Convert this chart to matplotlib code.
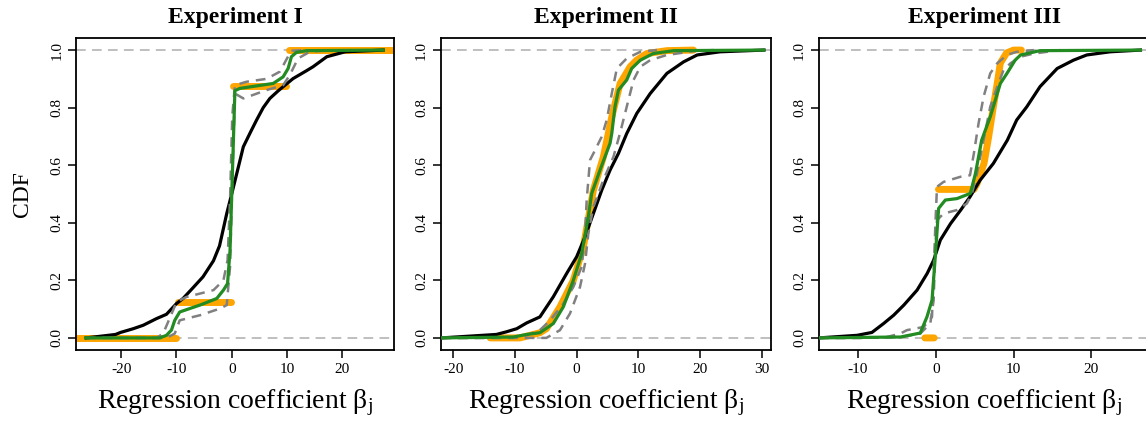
import numpy as np
import matplotlib
matplotlib.use("Agg")
import matplotlib.pyplot as plt

plt.rcParams['font.family'] = ['Liberation Serif', 'DejaVu Serif']
plt.rcParams['mathtext.fontset'] = 'custom'
plt.rcParams['mathtext.rm'] = 'Liberation Serif'
plt.rcParams['mathtext.it'] = 'Liberation Serif'
plt.rcParams['lines.scale_dashes'] = False

nan = np.nan

# ---- Experiment I ----
exp1_black_x = [-26.3, -21.0, -20.1, -17.8, -16.0, -13.6, -11.8, -10.0, -8.8, -7.2, -5.2, -3.3, -2.2,
                -0.9, 0.0, 0.9, 2.1, 3.4, 4.5, 5.7, 6.9, 8.5, 11.1, 13.5, 14.7, 17.2, 20.5, 27.4]
exp1_black_y = [0.0, 0.012, 0.019, 0.032, 0.044, 0.067, 0.082, 0.119, 0.137, 0.17, 0.212, 0.268, 0.32,
                0.432, 0.50, 0.57, 0.664, 0.715, 0.757, 0.80, 0.832, 0.86, 0.901, 0.928, 0.942, 0.977, 0.994, 1.0]

exp1_green_x = [-26.4, -13.0, -11.8, -10.9, -10.3, -9.4, -8.2, -5.75, -2.7, -1.5, -0.75, -0.3, 0.16,
                0.58, 1.5, 7.5, 9.3, 10.2, 10.8, 11.7, 13.5, 27.4]
exp1_green_y = [0.0, 0.0, 0.009, 0.027, 0.061, 0.09, 0.098, 0.114, 0.137, 0.166, 0.189, 0.305, 0.594,
                0.859, 0.867, 0.884, 0.907, 0.936, 0.977, 0.992, 0.998, 1.0]

exp1_hi_x = [-26.4, -13.6, -12.4, -10.6, -10.0, -8.2, -3.3, -1.5, -0.75, -0.3, 0.1, 0.58, 2.7, 6.3,
             8.7, 10.0, 10.8, 13.5]
exp1_hi_y = [0.0, 0.0, 0.015, 0.096, 0.125, 0.142, 0.166, 0.2, 0.27, 0.48, 0.77, 0.878, 0.89, 0.90,
             0.925, 0.971, 0.998, 1.0]

exp1_lo_x = [-26.4, -11.8, -10.3, -9.4, -8.2, -5.7, -2.1, -0.9, -0.3, 0.1, 0.58, 2.1, 6.3, 9.3,
             10.5, 12.0, 14.1, 17.8]
exp1_lo_y = [0.0, 0.0, 0.015, 0.061, 0.067, 0.079, 0.102, 0.114, 0.247, 0.536, 0.849, 0.832, 0.861, 0.878,
             0.913, 0.971, 0.994, 1.0]

exp1_orange_x = [-28.5, -10.0, nan, -9.8, -0.2, nan, 0.2, 9.9, nan, 10.4, 30.0]
exp1_orange_y = [0.0, 0.0, nan, 0.125, 0.125, nan, 0.875, 0.875, nan, 1.0, 1.0]

# ---- Experiment II ----
exp2_black_x = [-21.9, -13.0, -11.4, -9.7, -8.1, -5.95, -3.78, -1.62, 0.0, 1.35, 2.7, 4.05, 5.4,
                6.76, 8.1, 9.73, 11.9, 14.6, 17.3, 19.5, 23.2, 30.3]
exp2_black_y = [0.0, 0.012, 0.021, 0.032, 0.052, 0.073, 0.143, 0.224, 0.282, 0.351, 0.432, 0.513, 0.583,
                0.641, 0.710, 0.780, 0.849, 0.919, 0.959, 0.983, 0.994, 1.0]

exp2_orange_x = [-14.0, -9.2, -7.0, -5.95, -4.9, -2.7, -0.54, 1.08, 2.7, 4.32, 5.68, 7.03, 8.65,
                 9.7, 11.35, 14.6, 18.9]
exp2_orange_y = [0.0, 0.0, 0.012, 0.018, 0.032, 0.108, 0.2, 0.316, 0.513, 0.629, 0.768, 0.884, 0.942,
                 0.965, 0.988, 0.998, 1.0]

exp2_green_x = [-21.9, -10.3, -8.1, -5.95, -3.78, -2.16, -0.54, 0.81, 1.89, 2.43, 3.78, 5.4, 5.68,
                6.2, 6.76, 8.1, 8.9, 10.3, 12.4, 15.7, 30.3]
exp2_green_y = [0.0, 0.003, 0.012, 0.018, 0.05, 0.108, 0.2, 0.293, 0.421, 0.502, 0.583, 0.676, 0.710,
                0.803, 0.861, 0.896, 0.936, 0.965, 0.988, 0.998, 1.0]

exp2_hi_x = [-21.9, -10.3, -8.1, -5.95, -4.3, -2.16, -0.54, 0.81, 1.35, 1.62, 2.16, 2.97, 4.05, 4.86,
             5.68, 6.5, 8.1, 10.3, 13.0]
exp2_hi_y = [0.0, 0.0, 0.009, 0.027, 0.061, 0.119, 0.177, 0.247, 0.363, 0.479, 0.618, 0.652, 0.699,
             0.757, 0.849, 0.936, 0.971, 0.994, 1.0]

exp2_lo_x = [-21.9, -4.9, -2.7, -1.08, 0.54, 1.35, 1.89, 2.7, 4.3, 5.95, 7.0, 8.1, 9.2, 10.3, 11.9,
             14.6, 19.5, 22.2]
exp2_lo_y = [0.0, 0.0, 0.027, 0.085, 0.177, 0.258, 0.363, 0.455, 0.548, 0.629, 0.710, 0.803, 0.896,
             0.942, 0.965, 0.983, 0.998, 1.0]

# ---- Experiment III ----
exp3_black_x = [-15.0, -10.1, -8.2, -6.7, -5.4, -4.1, -2.4, -1.1, -0.27, 0.59, 1.9, 3.2, 4.4, 5.7,
                7.4, 9.2, 10.4, 11.7, 13.4, 15.6, 17.7, 19.4, 22.4, 26.3]
exp3_black_y = [0.0, 0.009, 0.019, 0.05, 0.079, 0.114, 0.166, 0.224, 0.27, 0.34, 0.397, 0.444, 0.49,
                0.548, 0.606, 0.687, 0.757, 0.803, 0.873, 0.936, 0.965, 0.983, 0.994, 1.0]

exp3_orange_x = [-1.4, -0.2, nan, 0.35, 4.9, 5.3, 6.2, 6.8, 7.4, 7.9, 8.3, 9.1, 10.0, 11.0]
exp3_orange_y = [0.0, 0.0, nan, 0.516, 0.516, 0.536, 0.606, 0.699, 0.803, 0.884, 0.955, 0.99, 1.0, 1.0]

exp3_green_x = [-15.0, -5.4, -4.55, -1.99, -1.13, -0.48, -0.06, 0.37, 1.23, 2.73, 4.44, 5.1, 5.9,
                7.0, 8.3, 9.15, 10.2, 10.9, 13.4, 26.3]
exp3_green_y = [0.0, 0.003, 0.003, 0.017, 0.073, 0.131, 0.282, 0.45, 0.479, 0.484, 0.502, 0.571, 0.687,
                0.768, 0.884, 0.919, 0.965, 0.983, 0.998, 1.0]

exp3_hi_x = [-15.0, -9.7, -6.3, -4.55, -3.7, -1.56, -0.48, -0.27, -0.06, 0.16, 1.0, 3.2, 4.4, 4.9,
             5.5, 6.15, 7.0, 7.9, 9.15, 10.4, 12.6]
exp3_hi_y = [0.0, 0.0, 0.003, 0.015, 0.027, 0.038, 0.073, 0.224, 0.386, 0.525, 0.542, 0.560, 0.565,
             0.641, 0.745, 0.838, 0.919, 0.954, 0.983, 0.994, 1.0]

exp3_lo_x = [-15.0, -9.7, -4.55, -2.0, -0.7, -0.27, -0.06, 0.16, 1.0, 2.7, 4.0, 4.65, 5.3, 6.15,
             7.0, 7.9, 8.7, 9.6, 10.9, 12.6, 16.0]
exp3_lo_y = [0.0, 0.0, 0.003, 0.015, 0.05, 0.131, 0.316, 0.409, 0.432, 0.444, 0.467, 0.502, 0.571,
             0.687, 0.803, 0.873, 0.930, 0.954, 0.977, 0.988, 1.0]

titles = ['Experiment I', 'Experiment II', 'Experiment III']
xlims = [(-28.1, 29.4), (-21.96, 31.5), (-15.0, 27.4)]
xticks = [[-20, -10, 0, 10, 20], [-20, -10, 0, 10, 20, 30], [-10, 0, 10, 20]]
yticks = [0.0, 0.2, 0.4, 0.6, 0.8, 1.0]
ytick_labels = ['0.0', '0.2', '0.4', '0.6', '0.8', '1.0']

panels = [
    (exp1_black_x, exp1_black_y, exp1_orange_x, exp1_orange_y, exp1_hi_x, exp1_hi_y,
     exp1_lo_x, exp1_lo_y, exp1_green_x, exp1_green_y),
    (exp2_black_x, exp2_black_y, exp2_orange_x, exp2_orange_y, exp2_hi_x, exp2_hi_y,
     exp2_lo_x, exp2_lo_y, exp2_green_x, exp2_green_y),
    (exp3_black_x, exp3_black_y, exp3_orange_x, exp3_orange_y, exp3_hi_x, exp3_hi_y,
     exp3_lo_x, exp3_lo_y, exp3_green_x, exp3_green_y),
]

W, H = 1146, 421
fig = plt.figure(figsize=(W / 100, H / 100), dpi=100)

# axes boxes in pixels: (left, width)
boxes = [(76.3, 318.0), (441.0, 330.3), (819.0, 330.0)]
top_px, bot_px = 37.7, 350.0

for i, (bx, by, ox, oy, hx, hy, lx, ly, gx, gy) in enumerate(panels):
    left, width = boxes[i]
    ax = fig.add_axes([left / W, (H - bot_px) / H, width / W, (bot_px - top_px) / H])

    ax.axhline(0, color='#b4b4b4', lw=1.2, ls=(0, (7, 4.5)), zorder=1)
    ax.axhline(1, color='#b4b4b4', lw=1.2, ls=(0, (7, 4.5)), zorder=1)

    ax.plot(ox, oy, color='#FFA500', lw=5.0, solid_capstyle='round', zorder=2)
    ax.plot(bx, by, color='black', lw=2.3, zorder=3)
    ax.plot(hx, hy, color='#808080', lw=1.8, ls=(0, (7, 5)), zorder=4)
    ax.plot(lx, ly, color='#808080', lw=1.8, ls=(0, (7, 5)), zorder=4)
    ax.plot(gx, gy, color='#228B22', lw=2.3, zorder=5)

    ax.set_xlim(*xlims[i])
    ax.set_ylim(-0.042, 1.043)
    ax.set_xticks(xticks[i])
    ax.set_xticklabels([str(t).replace('\u2212', '-') for t in xticks[i]], fontsize=11)
    ax.set_yticks(yticks)
    ax.set_yticklabels(ytick_labels, fontsize=11, rotation=90, va='center')
    ax.tick_params(direction='out', length=5.8, width=1.1, pad=3.6)

    for s in ax.spines.values():
        s.set_linewidth(1.3)

    ax.set_title(titles[i], fontsize=17, fontweight='bold', pad=10.6)
    ax.set_xlabel(r'Regression coefficient β$_{\mathrm{j}}$', fontsize=20, va='baseline')
    ax.xaxis.set_label_coords(0.5, -(408 - bot_px) / (bot_px - top_px))
    if i == 0:
        ax.set_ylabel('CDF', fontsize=17, va='center')
        ax.yaxis.set_label_coords((22.5 - left) / width, 0.5)

fig.savefig('out.png', dpi=100)
